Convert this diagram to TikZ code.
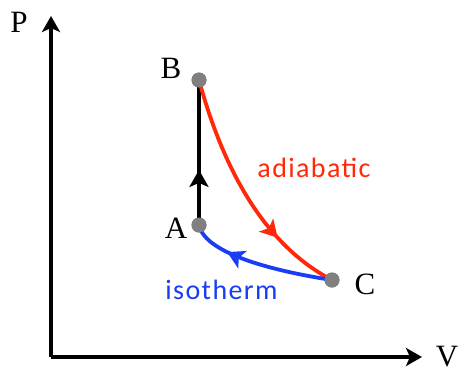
\documentclass[tikz,border=0pt]{standalone}
\usepackage{fontspec}
\setmainfont{Liberation Serif}
\newfontfamily\calib[LetterSpace=5]{Carlito}
\usetikzlibrary{arrows.meta,decorations.markings}
\definecolor{myred}{RGB}{255,40,10}
\definecolor{myblue}{RGB}{25,60,245}
\definecolor{dotgray}{RGB}{128,128,128}
\tikzset{
  axis/.style={line width=4pt,-{Stealth[length=16pt,width=18pt,inset=4pt]}},
  path/.style={line width=3.8pt},
  midarrow/.style={postaction={decorate},decoration={markings,
     mark=at position #1 with {\arrow{Stealth[length=17pt,width=19pt,inset=4pt]}}}},
  dot/.style={circle,fill=dotgray,inner sep=0pt,minimum size=15pt},
  lbl/.style={font=\fontsize{31}{33}\selectfont,inner sep=0pt},
  slbl/.style={font=\calib\fontsize{28}{30}\selectfont,inner sep=0pt},
}
\begin{document}
\begin{tikzpicture}[x=1pt,y=-1pt]
\useasboundingbox (0,0) rectangle (461,373);
\coordinate (O) at (51,357);
\coordinate (Ptop) at (51,16);
\coordinate (Vend) at (422,357);
\draw[axis] (O) -- (Ptop);
\draw[axis] (O) -- (Vend);
\node[lbl] (P) at (19,22) {P};
\node[lbl] (V) at (447,357) {V};
\node[dot] (B) at (199,80) {};
\node[dot] (A) at (199,225) {};
\node[dot] (C) at (332,280) {};
\draw[path,midarrow=0.38] (A.center) -- (B.center);
\draw[path,myred,midarrow=0.72] (B.center) .. controls (218,150) and (255,240) .. (C.center);
\draw[path,myblue,midarrow=0.73] (C.center) .. controls (280,272) and (205,255) .. (A.center);
\node[dot] at (B) {};
\node[dot] at (A) {};
\node[dot] at (C) {};
\node[lbl] (Bl) at (171,68) {B};
\node[lbl] (Al) at (176,228) {A};
\node[lbl] (Cl) at (365,284) {C};
\node[slbl,text=myred,anchor=base] (ad) at (314,177) {adiabatic};
\node[slbl,text=myblue,anchor=base] (iso) at (221.5,299) {isotherm};
\end{tikzpicture}
\end{document}
